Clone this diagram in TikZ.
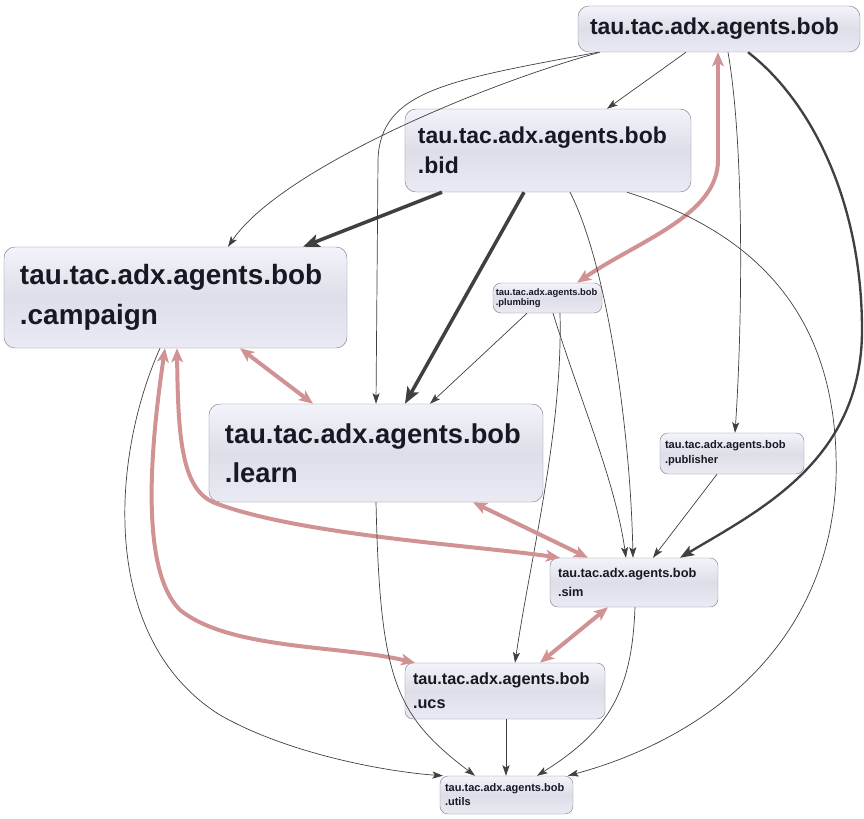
\documentclass[tikz,border=0pt]{standalone}
\usepackage{fontspec}
\setmainfont{Liberation Sans}
\usetikzlibrary{arrows.meta}

\definecolor{boxline}{RGB}{130,130,142}
\definecolor{boxtop}{RGB}{243,243,251}
\definecolor{boxmid}{RGB}{222,222,232}
\definecolor{boxbot}{RGB}{234,234,244}
\definecolor{pkgtext}{RGB}{24,24,36}
\definecolor{depline}{RGB}{64,64,64}
\definecolor{cyclepink}{RGB}{208,146,146}

\newcommand{\pkgfont}[2]{\fontsize{#1}{#2}\selectfont\bfseries}

\begin{document}
\begin{tikzpicture}[x=0.03cm, y=-0.03cm,
    pkg/.style={draw=boxline, rounded corners=0.33cm, top color=boxtop,
        bottom color=boxbot, middle color=boxmid, text=pkgtext,
        align=left, inner ysep=0pt},
    smallpkg/.style={pkg, rounded corners=0.24cm},
    dep/.style={depline, line width=0.6pt,
        -{Stealth[length=9pt,width=6pt,inset=2pt]}},
    strongdep/.style={depline, line width=2pt,
        -{Stealth[length=12pt,width=9pt,inset=2.5pt]}},
    heavydep/.style={depline, line width=3pt,
        -{Stealth[length=14pt,width=11pt,inset=3pt]}},
    mutual/.style={cyclepink, line width=3.4pt,
        {Stealth[length=12pt,width=10pt,inset=3pt]}-{Stealth[length=12pt,width=10pt,inset=3pt]}}]

    \useasboundingbox (0,0) rectangle (864,819);

    % Packages
    \node[pkg, text width=7.74cm, inner xsep=0.36cm, minimum height=1.38cm,
        font=\pkgfont{19.6}{21}] (bob) at (719,29) {tau.tac.adx.agents.bob};
    \node[pkg, text width=7.8cm, inner xsep=0.39cm, minimum height=2.49cm,
        font=\pkgfont{19.6}{26}] (bid) at (548,150.5) {tau.tac.adx.agents.bob\\.bid};
    \node[pkg, text width=9.33cm, inner xsep=0.48cm, minimum height=3.03cm,
        font=\pkgfont{23.8}{34}] (campaign) at (175.5,297.5) {tau.tac.adx.agents.bob\\.campaign};
    \node[smallpkg, text width=3.1cm, inner xsep=0.085cm, minimum height=0.9cm,
        font=\pkgfont{8}{8.8}] (plumbing) at (547.5,298) {tau.tac.adx.agents.bob\\.plumbing};
    \node[pkg, text width=9.06cm, inner xsep=0.48cm, minimum height=2.94cm,
        font=\pkgfont{23.3}{33}] (learn) at (376,453) {tau.tac.adx.agents.bob\\.learn};
    \node[smallpkg, text width=4.02cm, inner xsep=0.15cm, minimum height=1.23cm,
        font=\pkgfont{9.5}{13}] (publisher) at (732,453.5) {tau.tac.adx.agents.bob\\.publisher};
    \node[smallpkg, text width=4.56cm, inner xsep=0.24cm, minimum height=1.47cm,
        font=\pkgfont{10.9}{16}] (sim) at (634,582.5) {tau.tac.adx.agents.bob\\.sim};
    \node[smallpkg, text width=5.52cm, inner xsep=0.24cm, minimum height=1.68cm,
        font=\pkgfont{13.9}{20.5}] (ucs) at (505,691) {tau.tac.adx.agents.bob\\.ucs};
    \node[smallpkg, text width=3.69cm, inner xsep=0.15cm, minimum height=1.14cm,
        font=\pkgfont{9.4}{12}] (utils) at (506.5,795) {tau.tac.adx.agents.bob\\.utils};

    % bob
    \draw[dep] (bob.south -| 686,0) -- (bid.north -| 607,0);
    \draw[dep] (bob.south -| 600,0) .. controls (480,85) and (280,170) .. (campaign.north -| 228,0);
    \draw[dep] (bob.south -| 598,0) .. controls (450,80) and (380,90) .. (378,160) -- (learn.north -| 376,0);
    \draw[dep] (bob.south -| 728,0) .. controls (745,150) and (742,330) .. (publisher.north -| 735,0);
    \draw[strongdep] (bob.south -| 748,0) .. controls (810,100) and (862,200) .. (862,330)
        .. controls (862,460) and (760,510) .. (sim.north -| 680,0);
    \draw[mutual] (bob.south -| 718,0) -- (718,160) .. controls (718,215) and (640,240) .. (plumbing.north -| 577,0);

    % bid
    \draw[heavydep] (bid.south -| 442,0) -- (campaign.north -| 303,0);
    \draw[heavydep] (bid.south -| 524,0) -- (learn.north -| 405,0);
    \draw[dep] (bid.south -| 570,0) .. controls (605,260) and (630,420) .. (sim.north -| 633,0);
    \draw[dep] (bid.south -| 627,0) .. controls (780,240) and (840,340) .. (836,480)
        .. controls (828,650) and (700,740) .. (utils.north -| 568,0);

    % plumbing
    \draw[dep] (plumbing.south -| 527,0) -- (learn.north -| 430,0);
    \draw[dep] (plumbing.south -| 553,0) .. controls (580,400) and (615,480) .. (sim.north -| 626,0);
    \draw[dep] (plumbing.south -| 560,0) .. controls (563,430) and (530,560) .. (ucs.north -| 515,0);

    % campaign
    \draw[dep] (campaign.south -| 160,0) .. controls (110,460) and (100,640) .. (220,715)
        .. controls (290,755) and (390,772) .. (utils.north -| 443,0);
    \draw[mutual] (campaign.south -| 240,0) -- (learn.north -| 313,0);
    \draw[mutual] (campaign.south -| 177,0) .. controls (178,440) and (182,490) .. (215,503)
        .. controls (300,535) and (470,545) .. (sim.north -| 560,0);
    \draw[mutual] (campaign.south -| 165,0) .. controls (150,450) and (140,570) .. (180,610)
        .. controls (230,650) and (340,645) .. (ucs.north -| 415,0);

    % learn
    \draw[dep] (learn.south -| 376,0) .. controls (380,680) and (395,715) .. (utils.north -| 475,0);
    \draw[mutual] (learn.south -| 473,0) -- (sim.north -| 588,0);

    % publisher, sim, ucs
    \draw[dep] (publisher.south -| 717,0) -- (sim.north -| 653,0);
    \draw[dep] (sim.south -| 635,0) .. controls (632,690) and (610,730) .. (utils.north -| 537,0);
    \draw[mutual] (sim.south -| 608,0) -- (ucs.north -| 540,0);
    \draw[dep] (ucs.south -| 506,0) -- (utils.north -| 506,0);
\end{tikzpicture}
\end{document}
